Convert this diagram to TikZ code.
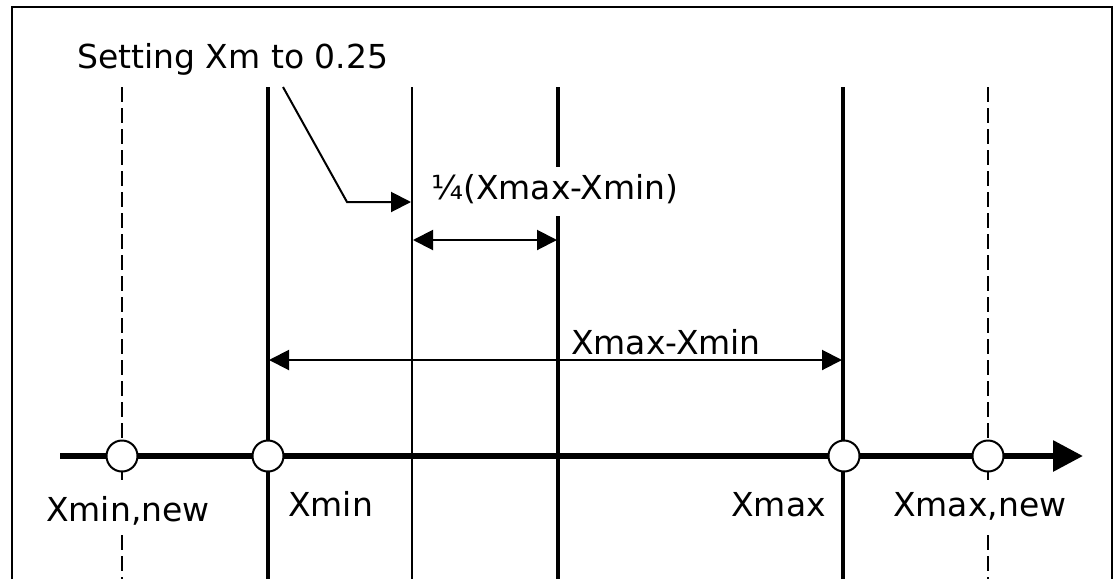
\documentclass[tikz,border=0pt]{standalone}
\usepackage{fontspec}
\setmainfont{DejaVu Sans}
\usetikzlibrary{arrows.meta}
\begin{document}
\begin{tikzpicture}[x=1pt,y=-1pt,
  lbl/.style={inner sep=0pt,font=\fontsize{33}{39}\selectfont},
  thickv/.style={line width=3.6pt},
  thinv/.style={line width=2pt},
  dashv/.style={line width=1.8pt,dash pattern=on 15pt off 6pt},
  dimarrow/.style={line width=2pt,-{Triangle[length=20pt,width=20pt]}},
  dimboth/.style={line width=2pt,{Triangle[length=20pt,width=20pt]}-{Triangle[length=20pt,width=20pt]}},
  pt/.style={circle,draw,fill=white,line width=2pt,minimum size=31pt,inner sep=0pt}]
\useasboundingbox (0,0) rectangle (1116,579);
% frame (open at bottom)
\draw[line width=1.8pt] (12,579) -- (12,7) -- (1112,7) -- (1112,579);
% coordinates
\coordinate (xnT) at (122,87); \coordinate (xnA) at (122,483); \coordinate (xnB) at (122,535); \coordinate (xnE) at (122,579);
\coordinate (xiT) at (268,87); \coordinate (xiE) at (268,579);
\coordinate (xqT) at (412,87); \coordinate (xqE) at (412,579);
\coordinate (xhT) at (558,87); \coordinate (xhA) at (558,167); \coordinate (xhB) at (558,216); \coordinate (xhE) at (558,579);
\coordinate (xaT) at (843,87); \coordinate (xaE) at (843,579);
\coordinate (xmT) at (988,87); \coordinate (xmA) at (988,483); \coordinate (xmB) at (988,535); \coordinate (xmE) at (988,579);
% vertical lines
\draw[dashv] (xnT) -- (xnA); \draw[dashv] (xnB) -- (xnE);
\draw[thickv] (xiT) -- (xiE);
\draw[thinv] (xqT) -- (xqE);
\draw[thickv] (xhT) -- (xhA); \draw[thickv] (xhB) -- (xhE);
\draw[thickv] (xaT) -- (xaE);
\draw[dashv] (xmT) -- (xmA); \draw[dashv] (xmB) -- (xmE);
% axis
\coordinate (axS) at (60,456); \coordinate (axE) at (1083,456);
\draw[line width=6pt,-{Triangle[length=30pt,width=30pt]}] (axS) -- (axE);
\node[pt] (pn) at (122,456) {};
\node[pt] (pi) at (268,456) {};
\node[pt] (pa) at (844,456) {};
\node[pt] (pm) at (988,456) {};
% labels
\node[lbl,anchor=base west] (tset) at (77,68) {Setting Xm to 0.25};
\node[lbl,anchor=base west] (tq) at (431,199) {¼(Xmax-Xmin)};
\node[lbl,anchor=base west] (tr) at (571,354) {Xmax-Xmin};
\node[lbl,anchor=base west] (tn) at (46,521) {Xmin,new};
\node[lbl,anchor=base west] (ti) at (288,516) {Xmin};
\node[lbl,anchor=base east] (ta) at (826,516) {Xmax};
\node[lbl,anchor=base west] (tm) at (893,516) {Xmax,new};
% leader
\coordinate (ldA) at (283,87); \coordinate (ldB) at (347,202); \coordinate (ldC) at (411,202);
\draw[dimarrow] (ldA) -- (ldB) -- (ldC);
% dimension arrows
\coordinate (q1) at (413,240); \coordinate (q2) at (557,240);
\draw[dimboth] (q1) -- (q2);
\coordinate (r1) at (269,360); \coordinate (r2) at (842,360);
\draw[dimboth] (r1) -- (r2);
\end{tikzpicture}
\end{document}
